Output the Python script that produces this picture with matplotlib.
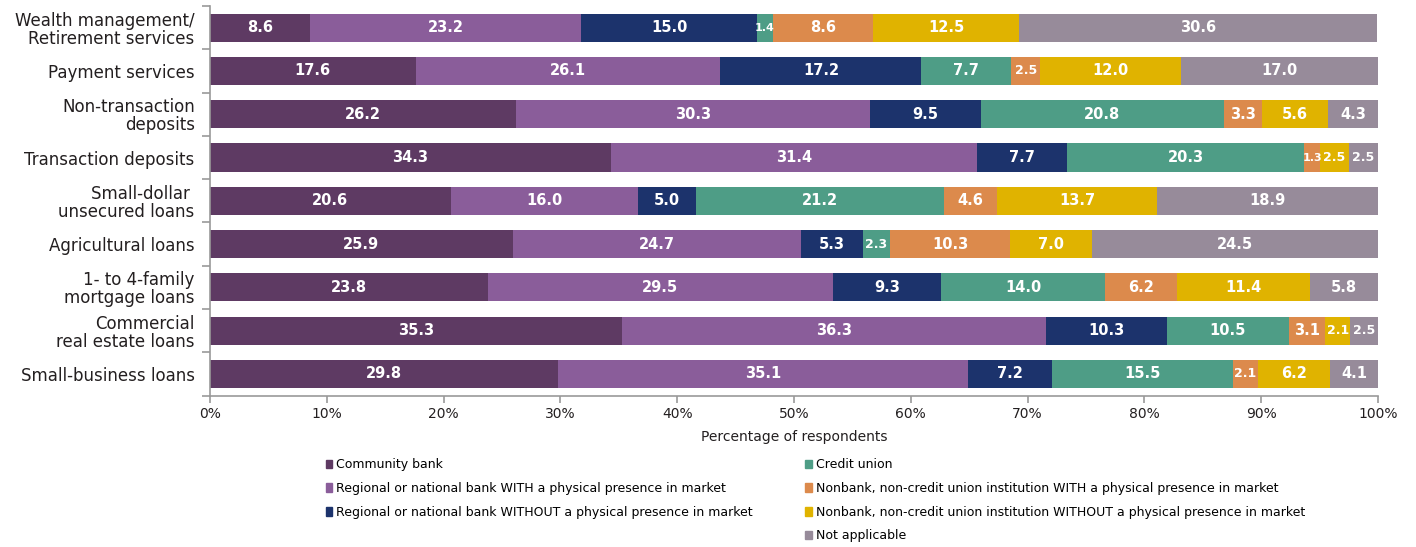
import matplotlib.pyplot as plt
import numpy as np
from matplotlib.patches import Patch
from matplotlib.ticker import PercentFormatter

plt.rcParams["font.family"] = ["DejaVu Sans"]

# Data, top row first
categories = [
    "Wealth management/\nRetirement services",
    "Payment services",
    "Non-transaction\ndeposits",
    "Transaction deposits",
    "Small-dollar \nunsecured loans",
    "Agricultural loans",
    "1- to 4-family\nmortgage loans",
    "Commercial\nreal estate loans",
    "Small-business loans",
]
community_bank = [8.6, 17.6, 26.2, 34.3, 20.6, 25.9, 23.8, 35.3, 29.8]
regional_with = [23.2, 26.1, 30.3, 31.4, 16.0, 24.7, 29.5, 36.3, 35.1]
regional_without = [15.0, 17.2, 9.5, 7.7, 5.0, 5.3, 9.3, 10.3, 7.2]
credit_union = [1.4, 7.7, 20.8, 20.3, 21.2, 2.3, 14.0, 10.5, 15.5]
nonbank_with = [8.6, 2.5, 3.3, 1.3, 4.6, 10.3, 6.2, 3.1, 2.1]
nonbank_without = [12.5, 12.0, 5.6, 2.5, 13.7, 7.0, 11.4, 2.1, 6.2]
not_applicable = [30.6, 17.0, 4.3, 2.5, 18.9, 24.5, 5.8, 2.5, 4.1]

series = [
    ("Community bank", community_bank, "#5e3a63"),
    ("Regional or national bank WITH a physical presence in market", regional_with, "#8a5d9a"),
    ("Regional or national bank WITHOUT a physical presence in market", regional_without, "#1c336c"),
    ("Credit union", credit_union, "#4e9d86"),
    ("Nonbank, non-credit union institution WITH a physical presence in market", nonbank_with, "#dc8a4c"),
    ("Nonbank, non-credit union institution WITHOUT a physical presence in market", nonbank_without, "#e0b300"),
    ("Not applicable", not_applicable, "#978b9a"),
]

fig = plt.figure(figsize=(14.16, 5.47), dpi=100)
ax = fig.add_axes([0.1483, 0.2768, 0.8249, 0.7122])

y = np.arange(len(categories))
left = np.zeros(len(categories))
for name, vals, color in series:
    vals = np.array(vals)
    bars = ax.barh(y, vals, left=left, height=0.65, color=color, label=name)
    for b, v in zip(bars, vals):
        # squeeze the labels of thin segments so they stay inside
        fs = 10.5 if v >= 2.6 else (9 if v >= 2.0 else 8)
        ax.text(b.get_x() + b.get_width() / 2, b.get_y() + b.get_height() / 2,
                f"{v:.1f}", ha="center", va="center", color="white",
                fontsize=fs, fontweight="bold")
    left += vals

ax.set_ylim(len(categories) - 0.5, -0.5)
ax.set_xlim(0, 100)
ax.set_yticks(y)
ax.set_yticklabels(categories, fontsize=12, color="#231f20", linespacing=1.0)
ax.set_yticks(np.arange(-0.5, len(categories), 1), minor=True)
ax.tick_params(axis="y", which="major", length=0, pad=11)
ax.tick_params(axis="y", which="minor", length=6, color="#999999", width=1.2)
ax.set_xticks(np.arange(0, 101, 10))
ax.xaxis.set_major_formatter(PercentFormatter(decimals=0))
ax.tick_params(axis="x", length=5, color="#999999", width=1.2, labelsize=10, labelcolor="#231f20")
ax.set_xlabel("Percentage of respondents", fontsize=10, color="#231f20", labelpad=6)

for s in ["top", "right"]:
    ax.spines[s].set_visible(False)
for s in ["left", "bottom"]:
    ax.spines[s].set_color("#999999")
    ax.spines[s].set_linewidth(1.2)

# legend: 3 entries in first column, 4 in second
handles = [Patch(color=c, label=n) for n, _, c in series]
blank = Patch(color="none", label="")
handles = handles[:3] + [blank] + handles[3:]
fig.legend(handles=handles, labels=[h.get_label() for h in handles], ncol=2,
           loc="lower left", bbox_to_anchor=(0.222, -0.012), frameon=False,
           fontsize=9, handlelength=0.55, handleheight=0.7, handletextpad=0.3,
           columnspacing=4.2, labelspacing=0.85)

fig.savefig("out.png", dpi=100)
